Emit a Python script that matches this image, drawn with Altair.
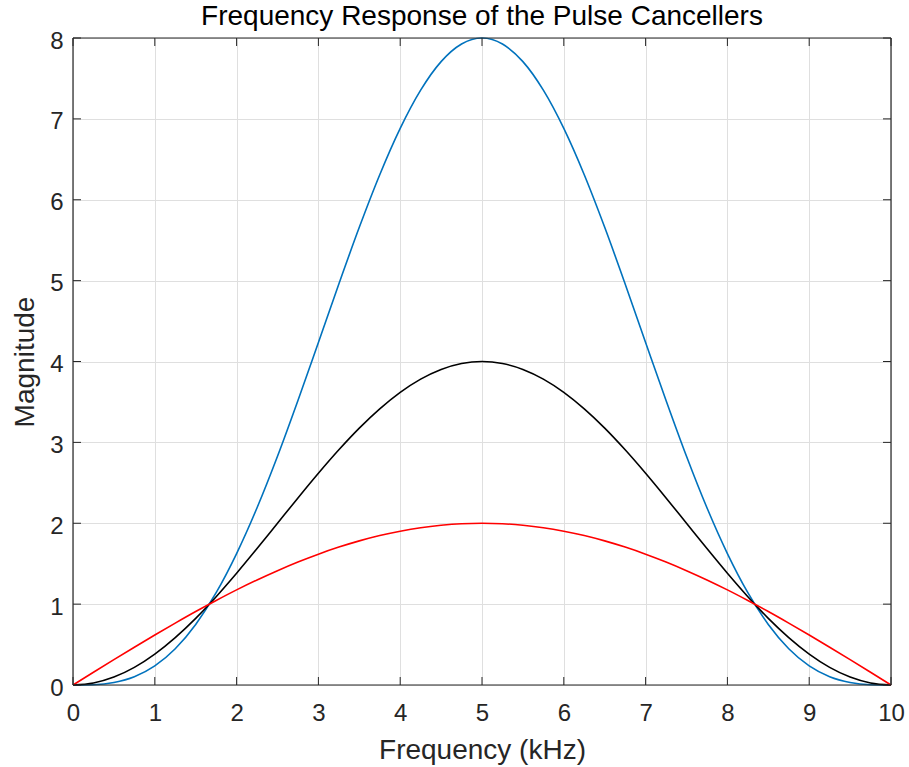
import altair as alt
import pandas as pd

# Frequency samples (kHz)
freq = [0.0, 0.25, 0.5, 0.75, 1.0, 1.25, 1.5, 1.75, 2.0, 2.25, 2.5, 2.75, 3.0, 3.25, 3.5, 3.75,
        4.0, 4.25, 4.5, 4.75, 5.0, 5.25, 5.5, 5.75, 6.0, 6.25, 6.5, 6.75, 7.0, 7.25, 7.5, 7.75,
        8.0, 8.25, 8.5, 8.75, 9.0, 9.25, 9.5, 9.75, 10.0]

# Single canceller (red)
red_vals = [0.0, 0.157, 0.313, 0.467, 0.618, 0.765, 0.908, 1.045, 1.176, 1.299, 1.414, 1.521,
            1.618, 1.705, 1.782, 1.848, 1.902, 1.945, 1.975, 1.994, 2.0, 1.994, 1.975, 1.945,
            1.902, 1.848, 1.782, 1.705, 1.618, 1.521, 1.414, 1.299, 1.176, 1.045, 0.908, 0.765,
            0.618, 0.467, 0.313, 0.157, 0.0]

# Double canceller (black)
black_vals = [0.0, 0.025, 0.098, 0.218, 0.382, 0.586, 0.824, 1.092, 1.382, 1.687, 2.0, 2.313,
              2.618, 2.908, 3.176, 3.414, 3.618, 3.782, 3.902, 3.975, 4.0, 3.975, 3.902, 3.782,
              3.618, 3.414, 3.176, 2.908, 2.618, 2.313, 2.0, 1.687, 1.382, 1.092, 0.824, 0.586,
              0.382, 0.218, 0.098, 0.025, 0.0]

# Triple canceller (blue)
blue_vals = [0.0, 0.004, 0.031, 0.102, 0.236, 0.448, 0.749, 1.141, 1.625, 2.191, 2.828, 3.518,
             4.236, 4.959, 5.659, 6.309, 6.882, 7.355, 7.708, 7.926, 8.0, 7.926, 7.708, 7.355,
             6.882, 6.309, 5.659, 4.959, 4.236, 3.518, 2.828, 2.191, 1.625, 1.141, 0.749, 0.448,
             0.236, 0.102, 0.031, 0.004, 0.0]

series_names = ["triple", "double", "single"]
series_colors = ["#0072BD", "#000000", "#FF0000"]

x_ticks = [0, 1, 2, 3, 4, 5, 6, 7, 8, 9, 10]
y_ticks = [0, 1, 2, 3, 4, 5, 6, 7, 8]

rows = []
for name, vals in zip(series_names, [blue_vals, black_vals, red_vals]):
    for f, v in zip(freq, vals):
        rows.append({"f": f, "v": v, "s": name})
df = pd.DataFrame(rows)

W, H = 818, 647
FONT = "Liberation Sans"
AX = "#262626"
TICK_LEN = 8

xscale = alt.Scale(domain=[0, 10], nice=False, zero=False)
yscale = alt.Scale(domain=[0, 8], nice=False, zero=False)

x_axis = alt.Axis(values=x_ticks, grid=True, ticks=False, tickSize=0, domain=False,
                  labelFontSize=24, labelPadding=16, labelColor=AX, labelFont=FONT,
                  labelFlush=False, format="d",
                  title="Frequency (kHz)", titleFontSize=28, titleFontWeight="normal",
                  titleColor=AX, titleFont=FONT, titleX=W / 2, titleY=73,
                  titleBaseline="alphabetic", titleAlign="center",
                  gridColor="#dfdfdf", gridWidth=1)
y_axis = alt.Axis(values=y_ticks, grid=True, ticks=False, tickSize=0, domain=False,
                  labelFontSize=24, labelPadding=10, labelColor=AX, labelFont=FONT,
                  labelFlush=False, labelBaseline="middle", labelOffset=3, format="d",
                  title="Magnitude", titleFontSize=28, titleFontWeight="normal",
                  titleColor=AX, titleFont=FONT, titleAngle=-90, titleX=-40,
                  titleY=H / 2, titleBaseline="alphabetic", titleAlign="center",
                  gridColor="#dfdfdf", gridWidth=1)

lines = alt.Chart(df).mark_line(strokeWidth=1.6, interpolate="monotone").encode(
    x=alt.X("f:Q", scale=xscale, axis=x_axis),
    y=alt.Y("v:Q", scale=yscale, axis=y_axis),
    color=alt.Color("s:N", scale=alt.Scale(domain=series_names, range=series_colors), legend=None),
)

xt = pd.DataFrame({"f": x_ticks})
yt = pd.DataFrame({"v": y_ticks})
one = pd.DataFrame({"k": [0]})

bottom_ticks = alt.Chart(xt).mark_rule(color=AX, strokeWidth=1).encode(
    x=alt.X("f:Q", scale=xscale, axis=x_axis), y=alt.value(H), y2=alt.value(H - TICK_LEN))
top_ticks = alt.Chart(xt).mark_rule(color=AX, strokeWidth=1).encode(
    x=alt.X("f:Q", scale=xscale, axis=x_axis), y=alt.value(0), y2=alt.value(TICK_LEN))
left_ticks = alt.Chart(yt).mark_rule(color=AX, strokeWidth=1).encode(
    y=alt.Y("v:Q", scale=yscale, axis=y_axis), x=alt.value(0), x2=alt.value(TICK_LEN))
right_ticks = alt.Chart(yt).mark_rule(color=AX, strokeWidth=1).encode(
    y=alt.Y("v:Q", scale=yscale, axis=y_axis), x=alt.value(W), x2=alt.value(W - TICK_LEN))

frame_top = alt.Chart(one).mark_rule(color=AX, strokeWidth=1.2).encode(
    x=alt.value(0), x2=alt.value(W), y=alt.value(0))
frame_bottom = alt.Chart(one).mark_rule(color=AX, strokeWidth=1.2).encode(
    x=alt.value(0), x2=alt.value(W), y=alt.value(H))
frame_left = alt.Chart(one).mark_rule(color=AX, strokeWidth=1.2).encode(
    x=alt.value(0), y=alt.value(0), y2=alt.value(H))
frame_right = alt.Chart(one).mark_rule(color=AX, strokeWidth=1.2).encode(
    x=alt.value(W), y=alt.value(0), y2=alt.value(H))

chart = alt.layer(lines, bottom_ticks, top_ticks, left_ticks, right_ticks,
                  frame_top, frame_bottom, frame_left, frame_right).properties(
    width=W, height=H,
    title=alt.TitleParams("Frequency Response of the Pulse Cancellers", fontSize=28,
                          fontWeight="normal", color="#000000", font=FONT, anchor="middle",
                          frame="group", baseline="alphabetic", offset=1, dy=25),
    padding={"left": 73, "top": 38, "right": 18, "bottom": 82},
    autosize=alt.AutoSizeParams(type="none"),
    background="white",
).configure_view(stroke=None)

chart.save("out.html", embed_options={"renderer": "svg", "actions": False})
